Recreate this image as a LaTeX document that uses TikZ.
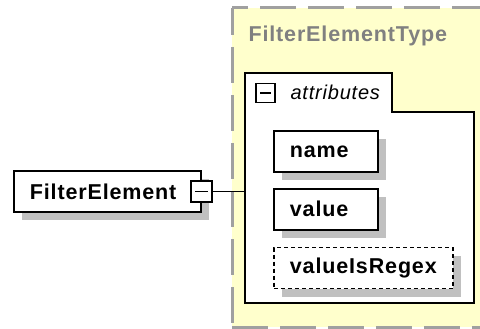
\documentclass[tikz,border=0pt]{standalone}
\usepackage{fontspec}
\setmainfont{Liberation Sans}
\newfontfamily\xsdfont[LetterSpace=4]{Liberation Sans}
\usetikzlibrary{positioning,shadows}
\definecolor{typefill}{RGB}{255,255,204}
\definecolor{typeline}{RGB}{160,160,160}
\definecolor{typetext}{RGB}{128,128,128}
\definecolor{shadowgray}{RGB}{192,192,192}
\tikzset{
  elem/.style={draw, line width=1.8pt, fill=white, anchor=north west, align=left,
    inner xsep=16pt, inner ysep=0pt, minimum height=41pt,
    font=\xsdfont\fontsize{21.5}{24}\selectfont\bfseries,
    drop shadow={shadow xshift=8pt, shadow yshift=-8pt, fill=shadowgray, opacity=1}},
  optelem/.style={elem, dash pattern=on 4pt off 3pt},
  collapser/.style={draw, line width=1.8pt, fill=white, inner sep=0pt, minimum size=#1,
    path picture={\draw[line width=1.8pt] ([xshift=4pt]path picture bounding box.west) -- ([xshift=-4pt]path picture bounding box.east);}},
  frame/.style={typeline, line width=3pt, dash pattern=on 36pt off 12pt},
  conn/.style={line width=1.8pt}
}
\begin{document}
\begin{tikzpicture}[x=1pt, y=-1pt]
\useasboundingbox (0,0) rectangle (480,329);
% complex type
\fill[typefill] (232,8) rectangle (495,327);
\draw[frame, dash phase=20pt] (232,8) -- (495,8);
\draw[frame, dash phase=9pt] (232,8) -- (232,327);
\draw[frame] (232,327) -- (495,327);
\node[anchor=base west, text=typetext, font=\xsdfont\fontsize{21.5}{24}\selectfont\bfseries] (typename) at (245,42) {FilterElementType};
% attribute group
\coordinate (atl) at (245,73);
\draw[conn, fill=white] (atl) -- (392,73) -- (392,112) -- (474,112) -- (474,303) -- (245,303) -- cycle;
\node[collapser=19pt] (attrminus) at (265.5,93) {};
\node[anchor=base west, font=\xsdfont\fontsize{20}{24}\selectfont\itshape] (attrlabel) at (287,100) {attributes};
% elements
\node[elem, text width=155pt] (fe) at (13,170) {FilterElement};
\node[elem, text width=72pt] (name) at (273,130) {name};
\node[elem, text width=72pt, below=15pt of name.south west, anchor=north west] (value) {value};
\node[optelem, text width=147pt, below=16pt of value.south west, anchor=north west] (regex) {valueIsRegex};
\node[collapser=21pt] (feminus) at (fe.east) {};
\draw[conn] (feminus.east) -- (feminus.east -| atl);
\end{tikzpicture}
\end{document}
